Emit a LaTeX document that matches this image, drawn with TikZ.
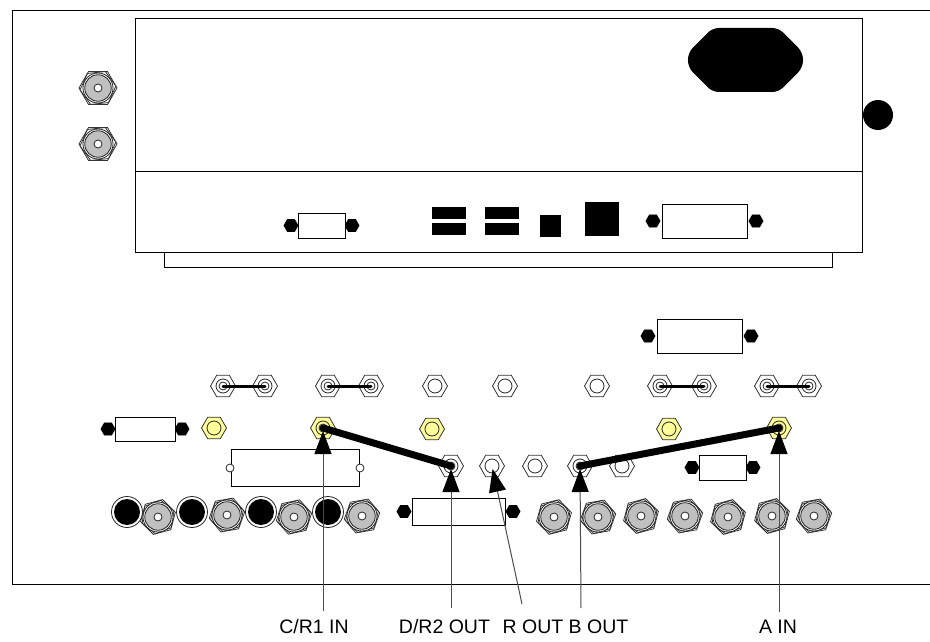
\documentclass[tikz,border=0pt]{standalone}
\usepackage{fontspec}
\setmainfont{Liberation Sans}
\usetikzlibrary{arrows.meta,shapes.geometric}
\definecolor{nutyellow}{HTML}{FFFF99}
\definecolor{bncgray}{HTML}{C0C0C0}
\tikzset{
  panel/.style={draw=black,line width=1pt,fill=white},
  hexshape/.style={regular polygon,regular polygon sides=6,inner sep=0pt,outer sep=0pt,draw=black!80,line width=.8pt,fill=white},
  nut/.style={hexshape,minimum size=25pt},
  ynut/.style={nut,fill=nutyellow},
  bhex/.style={hexshape,minimum size=14pt,fill=black,draw=black},
  ring/.style={circle,inner sep=0pt,outer sep=0pt,draw=black!85,line width=.8pt,fill=white},
  thinbar/.style={line width=3pt,black,line cap=round},
  fatbar/.style={line width=7pt,black,line cap=round},
  pointer/.style={line width=1pt,black!70,-{Triangle[length=23pt,width=17pt,color=black]},shorten >=3pt},
  lbl/.style={font=\fontsize{19.5}{22}\selectfont,inner sep=0pt,anchor=base},
  solid box/.style={fill=black,draw=none}
}
\newcommand{\nutplain}[3]{\node[nut] (#1) at (#2,#3) {};\node[ring,minimum size=14pt] at (#1) {};}
\newcommand{\nutdbl}[3]{\node[nut] (#1) at (#2,#3) {};\node[ring,minimum size=14pt] at (#1) {};\node[ring,minimum size=8pt] at (#1) {};}
\newcommand{\nuty}[3]{\node[ynut] (#1) at (#2,#3) {};\node[ring,fill=nutyellow,minimum size=14pt] at (#1) {};}
\newcommand{\nutydbl}[3]{\node[ynut] (#1) at (#2,#3) {};\node[ring,fill=nutyellow,minimum size=14pt] at (#1) {};\node[ring,fill=nutyellow,minimum size=8pt] at (#1) {};}
\newcommand{\bncsized}[5]{%
  \node[hexshape,minimum size=#5pt,shape border rotate=#4] (#1) at (#2,#3) {};
  \node[hexshape,minimum size=#5pt-2pt,fill=none,shape border rotate=#4+6] at (#1) {};
  \node[ring,minimum size=30pt] at (#1) {};
  \node[ring,minimum size=26.5pt,fill=bncgray] at (#1) {};
  \node[ring,minimum size=8pt] at (#1) {};}
\newcommand{\bnc}[4]{\bncsized{#1}{#2}{#3}{#4}{36}}
\newcommand{\jack}[3]{\node[ring,minimum size=31pt] (#1) at (#2,#3) {};\node[circle,inner sep=0pt,fill=black,minimum size=26pt] at (#1) {};}
\newcommand{\dsub}[6]{% name x1 y1 x2 y2 offset
  \node[bhex] (#1l) at (#2-#6,{(#3+#5)/2}) {};
  \node[bhex] (#1r) at (#4+#6,{(#3+#5)/2}) {};
  \draw[panel] (#2,#3) rectangle (#4,#5);}
\begin{document}
\begin{tikzpicture}[x=1pt,y=-1pt]
\useasboundingbox (0,0) rectangle (930,642);
\fill[white] (0,0) rectangle (930,642);
% frames: open on the right, running off the page
\draw[line width=1pt] (930,10.5) -- (12,10.5) -- (12,584) -- (930,584);
\draw[panel] (164,252) rectangle (832,267);
\draw[panel] (135,18.5) rectangle (862,252);
\draw[line width=1pt] (135,171) -- (862,171);
% mains inlet and knob
\fill[black] (745,28) [rounded corners=6pt] -- (778.5,28) [rounded corners=18pt] -- (810.5,60) [rounded corners=6pt] -- (778.5,92) -- (712.5,92) [rounded corners=18pt] -- (680.5,60) [rounded corners=6pt] -- (712.5,28) -- cycle;
\node[circle,fill=black,inner sep=0pt,minimum size=30pt] (knob) at (878,115) {};
% left BNCs
\bncsized{bncA}{98}{88}{0}{38}
\bncsized{bncB}{98}{144}{0}{38}
% panel connectors
\dsub{vga}{298}{213}{345}{238}{7}
\fill[solid box] (432,207) rectangle (466,219);
\fill[solid box] (432,223) rectangle (466,235);
\fill[solid box] (485,207) rectangle (519,219);
\fill[solid box] (485,223) rectangle (519,235);
\fill[solid box] (540,215) rectangle (561,237);
\fill[solid box] (585,202) rectangle (619,236);
\dsub{dvi}{662}{204}{747}{238}{9}
\dsub{upper}{657}{319}{742}{353}{9}
\dsub{leftc}{115}{417}{175}{441}{7}
\dsub{midc}{412}{498}{505}{525}{8}
\dsub{rightc}{699}{455}{746}{480}{7}
% wide connector with small circles
\draw[panel] (231,449) rectangle (359,486);
\node[ring,minimum size=8pt] (wl) at (230,468) {};
\node[ring,minimum size=8pt] (wr) at (360,468) {};
% top nut row
\nutdbl{a1}{223}{386}\nutdbl{a2}{265}{386}
\nutdbl{a3}{328}{386}\nutdbl{a4}{371}{386}
\nutplain{a5}{435}{386}\nutplain{a6}{505}{386}\nutplain{a7}{597}{386}
\nutdbl{a8}{660}{386}\nutdbl{a9}{704}{386}
\nutdbl{a10}{767}{386}\nutdbl{a11}{809}{386}
\draw[thinbar] (a1.center) -- (a2.center);
\draw[thinbar] (a3.center) -- (a4.center);
\draw[thinbar] (a8.center) -- (a9.center);
\draw[thinbar] (a10.center) -- (a11.center);
% yellow nuts
\nuty{y1}{214}{428}\nutydbl{y2}{323}{428}\nuty{y3}{432}{429}\nuty{y4}{669}{429}\nutydbl{y5}{779}{428}
% middle nut row
\nutdbl{b1}{451}{466}\nutplain{b2}{492}{466}\nutplain{b3}{535}{466}\nutdbl{b4}{580}{466}\nutplain{b5}{622}{466}
% lower row
\jack{j1}{127}{512}\bnc{c1}{158}{517}{15}
\jack{j2}{192}{512}\bnc{c2}{227}{515}{10}
\jack{j3}{261}{512}\bnc{c3}{294}{517}{12}
\jack{j4}{328}{512}\bnc{c4}{362}{516}{10}
\bnc{c5}{554}{517}{14}\bnc{c6}{598}{517}{10}
\bnc{c7}{641}{516}{15}\bnc{c8}{685}{516}{10}
\bnc{c9}{728}{517}{15}\bnc{c10}{772}{516}{15}\bnc{c11}{814}{516}{10}
% thick links
\draw[fatbar] (y2.center) -- (b1.center);
\draw[fatbar] (b4.center) -- (y5.center);
% labels
\node[lbl] (lC) at (314,633) {C/R1 IN};
\node[lbl] (lD) at (444.5,633) {D/R2 OUT};
\node[lbl] (lR) at (533,633) {R OUT};
\node[lbl] (lB) at (598.5,633) {B OUT};
\node[lbl] (lA) at (778,633) {A IN};
% pointers
\coordinate (tC) at (323,611);
\coordinate (tD) at (451,608);
\coordinate (tR) at (522,604);
\coordinate (tB) at (581,608);
\coordinate (tA) at (779,612);
\draw[pointer] (tC) -- (y2.center);
\draw[pointer] (tD) -- (b1.center);
\draw[pointer] (tR) -- (b2.center);
\draw[pointer] (tB) -- (b4.center);
\draw[pointer] (tA) -- (y5.center);
\end{tikzpicture}
\end{document}
